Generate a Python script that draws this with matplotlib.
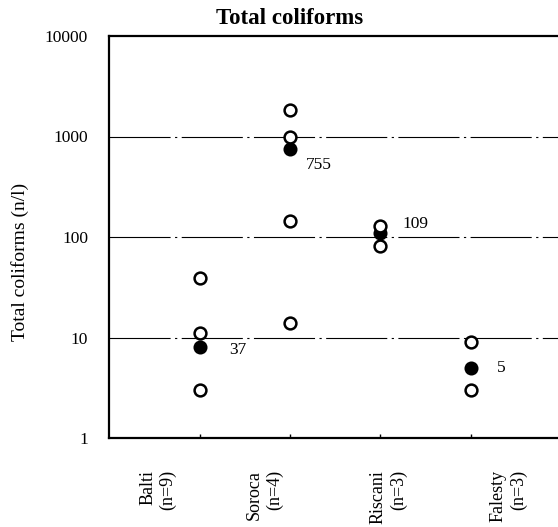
import numpy as np
from matplotlib import pyplot as plt

plt.rcParams['font.family'] = ['Liberation Serif', 'DejaVu Serif']

# towns and sample counts
towns = ['Balti', 'Soroca', 'Riscani', 'Falesty']
n_samples = [9, 4, 3, 3]

# individual counts (open circles) per town
samples = [
    [39, 11, 3],
    [1850, 1000, 145, 14],
    [130, 82],
    [9, 3],
]
# summary point (filled) and its printed label
summary = [8, 755, 109, 5]
summary_text = ['37', '755', '109', '5']

fig = plt.figure(figsize=(5.58, 5.27), dpi=100)
ax = fig.add_axes([109 / 558, 89 / 527, 1 - 109 / 558, 402 / 527])

x = np.arange(1, len(towns) + 1)

for i, vals in enumerate(samples):
    ax.plot([x[i]], [summary[i]], 'o', color='black',
            markersize=8.5, markeredgewidth=1.6, zorder=3)
    ax.plot([x[i]] * len(vals), vals, 'o', markerfacecolor='white',
            markeredgecolor='black', markersize=8.5, markeredgewidth=1.8, zorder=4)

# offsets (pixels) of the value labels from the filled points
label_offsets = [(30, -3), (16, -16), (22, 9), (26, 0)]
for i, txt in enumerate(summary_text):
    ax.annotate(txt, (x[i], summary[i]), xytext=label_offsets[i],
                textcoords='offset pixels', ha='left', va='center', fontsize=12.5)

ax.set_yscale('log')
ax.set_ylim(1, 10000)
ax.set_xlim(0, 449 / 90.5)
ax.set_yticks([1, 10, 100, 1000, 10000])
ax.set_yticklabels(['1', '10', '100', '1000', '10000'], fontsize=12.5)
ax.minorticks_off()
ax.tick_params(axis='y', length=0, pad=15)
ax.set_xticks(x)
ax.set_xticklabels([])
ax.tick_params(axis='x', direction='in', length=3, width=1)

for y in [10, 100, 1000]:
    ax.axhline(y, color='black', linewidth=0.8, linestyle=(0, (55, 4, 2, 4)), zorder=1)

for side in ['left', 'bottom', 'top']:
    ax.spines[side].set_linewidth(1.6)
ax.spines['right'].set_visible(False)

# town labels, rotated, below the axis
label_shift = [-0.46, -0.28, 0.09, 0.41]
for i, town in enumerate(towns):
    ax.text(x[i] + label_shift[i], -0.08, f'{town}\n(n={n_samples[i]})',
            transform=ax.get_xaxis_transform(), rotation=90, ha='center', va='top',
            multialignment='right', fontsize=13, linespacing=1.25)

fig.text(290 / 558, 1 - 18 / 527, 'Total coliforms', ha='center', va='center',
         fontsize=16.5, fontweight='bold')
fig.text(20 / 558, 1 - 262 / 527, 'Total coliforms (n/l)', rotation=90,
         ha='center', va='center', fontsize=14)

plt.savefig('out.png', dpi=100)
